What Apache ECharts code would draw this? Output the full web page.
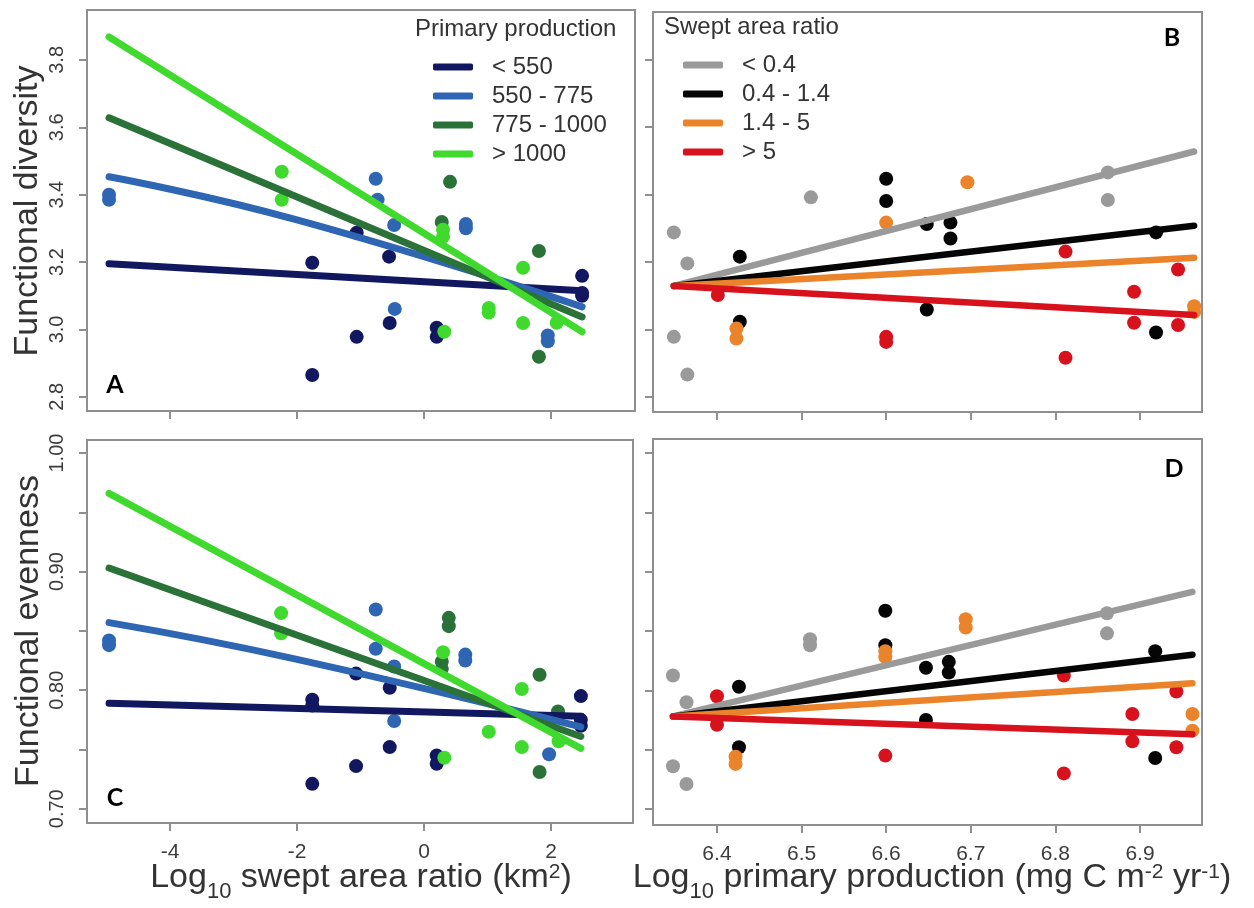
<!DOCTYPE html>
<html>
<head>
<meta charset="utf-8">
<title>Functional diversity and evenness</title>
<script src="https://cdn.jsdelivr.net/npm/echarts@6/dist/echarts.min.js"></script>
<style>
  html, body { margin: 0; padding: 0; background: #fff; }
  #chart { width: 1254px; height: 908px; }
</style>
</head>
<body>
<div id="chart"></div>
<script>
// groups and colours
const ppGroups = ['< 550', '550 - 775', '775 - 1000', '> 1000']
const ppColors = ['#121860', '#2f66b3', '#2b7239', '#40da2f']
const sarGroups = ['< 0.4', '0.4 - 1.4', '1.4 - 5', '> 5']
const sarColors = ['#9a9a9a', '#050505', '#ea8329', '#d8121d']

// tick values
const sarTicks = [-4, -2, 0, 2]
const ppTicks = [6.4, 6.5, 6.6, 6.7, 6.8, 6.9]
const fdTicks = [2.8, 3.0, 3.2, 3.4, 3.6, 3.8]
const feTicks = [0.70, 0.75, 0.80, 0.85, 0.90, 0.95, 1.00]
const feLabels = [0.70, 0.80, 0.90, 1.00]

// A: functional diversity vs log10 swept area ratio
const aPtsLow = [[-1.76, 3.198], [-1.76, 2.865], [-1.06, 3.287], [-1.06, 2.978], [-0.55, 3.216], [-0.54, 3.019], [0.2, 3.005], [0.2, 2.978], [2.49, 3.159], [2.49, 3.108], [2.49, 3.100]]
const aPtsMid = [[-4.96, 3.385], [-4.96, 3.400], [-0.76, 3.447], [-0.73, 3.385], [-0.47, 3.310], [-0.46, 3.061], [0.66, 3.313], [0.66, 3.300], [1.95, 2.982], [1.95, 2.965]]
const aPtsHigh = [[0.41, 3.438], [0.28, 3.319], [1.81, 3.233], [1.81, 2.919]]
const aPtsTop = [[-2.24, 3.468], [-2.24, 3.385], [0.3, 3.296], [0.3, 3.275], [0.32, 2.993], [1.02, 3.064], [1.02, 3.050], [1.56, 3.183], [1.56, 3.019], [2.09, 3.020]]
const aLineLow = [[-4.96, 3.195], [2.49, 3.115]]
const aLineMid = [[-4.96, 3.453], [-2, 3.325], [2.49, 3.067]]
const aLineHigh = [[-4.96, 3.628], [2.49, 3.037]]
const aLineTop = [[-4.96, 3.868], [2.49, 2.993]]

// B: functional diversity vs log10 primary production
const bPtsLow = [[6.349, 3.288], [6.365, 3.196], [6.349, 2.978], [6.365, 2.866], [6.511, 3.392], [6.862, 3.466], [6.862, 3.384]]
const bPtsMid = [[6.427, 3.216], [6.427, 3.023], [6.600, 3.447], [6.600, 3.381], [6.648, 3.313], [6.648, 3.059], [6.676, 3.317], [6.676, 3.270], [6.919, 3.288], [6.919, 2.991]]
const bPtsHigh = [[6.423, 3.003], [6.423, 2.973], [6.600, 3.317], [6.696, 3.437], [6.964, 3.069], [6.964, 3.052]]
const bPtsTop = [[6.401, 3.102], [6.600, 2.978], [6.600, 2.963], [6.812, 3.231], [6.812, 2.916], [6.893, 3.112], [6.893, 3.020], [6.945, 3.178], [6.945, 3.013]]
const bLineLow = [[6.349, 3.129], [6.964, 3.528]]
const bLineMid = [[6.349, 3.129], [6.964, 3.308]]
const bLineHigh = [[6.349, 3.129], [6.964, 3.213]]
const bLineTop = [[6.349, 3.129], [6.964, 3.043]]

// C: functional evenness vs log10 swept area ratio
const cPtsLow = [[-1.76, 0.792], [-1.76, 0.787], [-1.76, 0.721], [-1.07, 0.814], [-1.07, 0.736], [-0.54, 0.802], [-0.54, 0.752], [0.2, 0.745], [0.2, 0.738], [2.47, 0.795], [2.47, 0.775], [2.47, 0.770]]
const cPtsMid = [[-4.96, 0.842], [-4.96, 0.838], [-0.76, 0.868], [-0.76, 0.835], [-0.47, 0.820], [-0.47, 0.774], [0.65, 0.830], [0.65, 0.825], [1.97, 0.746]]
const cPtsHigh = [[0.39, 0.861], [0.39, 0.854], [0.28, 0.824], [0.28, 0.818], [1.82, 0.813], [1.82, 0.731], [2.11, 0.782]]
const cPtsTop = [[-2.25, 0.865], [-2.25, 0.848], [0.3, 0.832], [0.32, 0.743], [1.02, 0.765], [1.54, 0.801], [1.54, 0.752], [2.12, 0.757]]
const cLineLow = [[-4.96, 0.789], [2.47, 0.778]]
const cLineMid = [[-4.96, 0.857], [-2, 0.826], [2.47, 0.769]]
const cLineHigh = [[-4.96, 0.903], [2.47, 0.761]]
const cLineTop = [[-4.96, 0.966], [2.47, 0.751]]

// D: functional evenness vs log10 primary production
const dPtsLow = [[6.348, 0.8125], [6.364, 0.790], [6.348, 0.736], [6.364, 0.721], [6.510, 0.843], [6.510, 0.838], [6.861, 0.865], [6.861, 0.848]]
const dPtsMid = [[6.426, 0.803], [6.426, 0.752], [6.599, 0.867], [6.599, 0.838], [6.647, 0.819], [6.647, 0.775], [6.674, 0.824], [6.674, 0.815], [6.918, 0.833], [6.918, 0.743]]
const dPtsHigh = [[6.422, 0.744], [6.422, 0.738], [6.599, 0.833], [6.599, 0.828], [6.694, 0.860], [6.694, 0.853], [6.962, 0.780], [6.962, 0.766]]
const dPtsTop = [[6.400, 0.795], [6.400, 0.771], [6.599, 0.745], [6.810, 0.8125], [6.810, 0.730], [6.891, 0.780], [6.891, 0.757], [6.943, 0.799], [6.943, 0.752]]
const dLineLow = [[6.348, 0.778], [6.962, 0.883]]
const dLineMid = [[6.348, 0.778], [6.962, 0.830]]
const dLineHigh = [[6.348, 0.778], [6.962, 0.806]]
const dLineTop = [[6.348, 0.778], [6.962, 0.763]]

const font = '"Liberation Sans", Arial, Helvetica, sans-serif'
const boxColor = '#8f8f8f'
const tickLabelColor = '#3c3c3c'

function scatter(name, data, color, idx) {
  return {
    type: 'scatter', name, data,
    xAxisIndex: idx, yAxisIndex: idx,
    symbol: 'circle', symbolSize: 14,
    itemStyle: { color, opacity: 1 },
    silent: true, z: 2,
  }
}

function fit(name, data, color, idx, width) {
  return {
    type: 'line', name, data,
    xAxisIndex: idx, yAxisIndex: idx,
    symbol: 'none', showSymbol: false,
    smooth: data.length > 2 ? 0.5 : false,
    lineStyle: { color, width, cap: 'round' },
    itemStyle: { color },
    silent: true, z: 3,
  }
}

function xAxis(idx, min, max, ticks, showLabels, fmt) {
  return {
    type: 'value', gridIndex: idx, min, max,
    axisLine: { show: false, onZero: false },
    splitLine: { show: false },
    axisTick: { show: true, customValues: ticks, length: 8, lineStyle: { color: boxColor, width: 2 } },
    axisLabel: {
      show: showLabels, customValues: ticks, margin: 19,
      fontSize: 21, fontFamily: font, color: tickLabelColor, formatter: fmt,
    },
  }
}

function yAxis(idx, min, max, ticks, labels, showLabels, fmt) {
  return {
    type: 'value', gridIndex: idx, min, max,
    axisLine: { show: false, onZero: false },
    splitLine: { show: false },
    axisTick: { show: true, customValues: ticks, length: 8, lineStyle: { color: boxColor, width: 2 } },
    axisLabel: {
      show: showLabels, customValues: labels, margin: 20, rotate: 90,
      fontSize: 20, fontFamily: font, color: tickLabelColor, formatter: fmt,
    },
  }
}

function legend(left, top, names, colors) {
  return {
    orient: 'vertical', left, top, padding: 0,
    itemWidth: 40, itemHeight: 7, itemGap: 5,
    icon: 'roundRect', selectedMode: false,
    data: names.map((name, i) => ({ name, itemStyle: { color: colors[i] } })),
    textStyle: { fontSize: 24, lineHeight: 24, fontFamily: font, color: '#333', padding: [0, 0, 0, 14] },
  }
}

function panelLetter(text, x, y) {
  return {
    type: 'text', x, y, z: 100,
    style: {
      text, fill: '#000', font: 'bold 25px Lato, "Open Sans", sans-serif',
      align: 'center', verticalAlign: 'middle',
    },
  }
}

const titleRich = {
  main: { fontSize: 34, lineHeight: 50, fontFamily: font, color: '#333' },
  sub: { fontSize: 22, lineHeight: 22, fontFamily: font, color: '#333', verticalAlign: 'bottom' },
  sup: { fontSize: 21, fontFamily: font, color: '#333', padding: [0, 0, 11, 0] },
}

function richTitle(text, x, y) {
  return {
    type: 'text', x, y, z: 100,
    style: {
      text, rich: titleRich, fontSize: 34, fontFamily: font, fill: '#333',
      align: 'center', verticalAlign: 'middle',
    },
  }
}

function sideTitle(text, x, y) {
  return {
    type: 'text', x, y, rotation: Math.PI / 2, z: 100,
    style: {
      text, fill: '#333', font: '34px ' + font,
      align: 'center', verticalAlign: 'middle',
    },
  }
}

const fmt1 = v => v.toFixed(1)
const fmt2 = v => v.toFixed(2)

const series = []
const aPts = [aPtsLow, aPtsMid, aPtsHigh, aPtsTop]
const aLines = [aLineLow, aLineMid, aLineHigh, aLineTop]
const bPts = [bPtsLow, bPtsMid, bPtsHigh, bPtsTop]
const bLines = [bLineLow, bLineMid, bLineHigh, bLineTop]
const cPts = [cPtsLow, cPtsMid, cPtsHigh, cPtsTop]
const cLines = [cLineLow, cLineMid, cLineHigh, cLineTop]
const dPts = [dPtsLow, dPtsMid, dPtsHigh, dPtsTop]
const dLines = [dLineLow, dLineMid, dLineHigh, dLineTop]

ppGroups.forEach((name, i) => {
  series.push(scatter(name, aPts[i], ppColors[i], 0))
  series.push(scatter(name, cPts[i], ppColors[i], 2))
})
ppGroups.forEach((name, i) => {
  series.push(fit(name, aLines[i], ppColors[i], 0, 7))
  series.push(fit(name, cLines[i], ppColors[i], 2, 7))
})
sarGroups.forEach((name, i) => {
  series.push(scatter(name, bPts[i], sarColors[i], 1))
  series.push(scatter(name, dPts[i], sarColors[i], 3))
})
sarGroups.forEach((name, i) => {
  series.push(fit(name, bLines[i], sarColors[i], 1, 6.5))
  series.push(fit(name, dLines[i], sarColors[i], 3, 6.5))
})

const gridStyle = { show: true, borderColor: boxColor, borderWidth: 2, backgroundColor: 'transparent' }

const option = {
  animation: false,
  backgroundColor: '#ffffff',
  grid: [
    Object.assign({ left: 87, top: 10, width: 548, height: 401 }, gridStyle),
    Object.assign({ left: 653, top: 12, width: 549, height: 400 }, gridStyle),
    Object.assign({ left: 87, top: 440, width: 546, height: 383 }, gridStyle),
    Object.assign({ left: 653, top: 439, width: 549, height: 386 }, gridStyle),
  ],
  xAxis: [
    xAxis(0, -5.307, 3.323, sarTicks, false),
    xAxis(1, 6.3244, 6.9733, ppTicks, false),
    xAxis(2, -5.307, 3.291, sarTicks, true, v => String(v)),
    xAxis(3, 6.3244, 6.9733, ppTicks, true, fmt1),
  ],
  yAxis: [
    yAxis(0, 2.758, 3.948, fdTicks, fdTicks, true, fmt1),
    yAxis(1, 2.755, 3.942, fdTicks, fdTicks, false),
    yAxis(2, 0.688, 1.011, feTicks, feLabels, true, fmt2),
    yAxis(3, 0.6865, 1.0118, feTicks, feLabels, false),
  ],
  legend: [
    legend(433, 55, ppGroups, ppColors),
    legend(683, 53, sarGroups, sarColors),
  ],
  graphic: [
    { type: 'text', left: 415, top: 17, z: 100, style: { text: 'Primary production', font: '24px ' + font, fill: '#333' } },
    { type: 'text', left: 664, top: 15, z: 100, style: { text: 'Swept area ratio', font: '24px ' + font, fill: '#333' } },
    panelLetter('A', 115, 385),
    panelLetter('B', 1172, 38),
    panelLetter('C', 115, 798),
    panelLetter('D', 1174, 469),
    sideTitle('Functional diversity', 28, 211),
    sideTitle('Functional evenness', 29, 631),
    richTitle('{main|Log}{sub|10}{main| swept area ratio (km}{sup|2}{main|)}', 361, 878),
    richTitle('{main|Log}{sub|10}{main| primary production (mg C m}{sup|-2}{main| yr}{sup|-1}{main|)}', 932, 878),
  ],
  series,
}

const chart = echarts.init(document.getElementById('chart'), null, { renderer: 'canvas' })
chart.setOption(option)
</script>
</body>
</html>
